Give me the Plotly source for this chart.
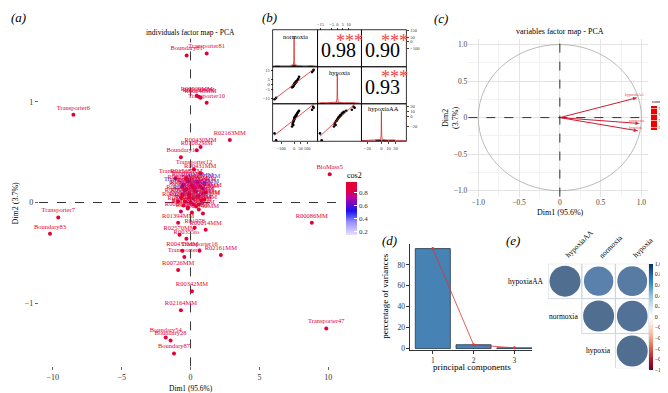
import numpy as np
import plotly.graph_objects as go
from plotly.colors import sample_colorscale

W, H = 668, 393
FONT = "Liberation Serif"


def fx(p):
    return p / W


def fy(p):
    return 1 - p / H


# ---------------- (a) individuals factor map ----------------
ind_names = [
    "Transporter81", "Boundary81", "R00529MM", "R00530MM", "R00248MM", "Transporter10",
    "Transporter6", "R02163MM", "R00430MM", "R01082MM", "Boundary1", "Transporter12", "R00431MM",
    "Transporter5", "R01518MM",
    "R00200MM", "R00209MM", "R01070MM", "Transporter22", "R00351MM", "R00658MM", "R00519MM", "R01899MM",
    "R00344MM", "R00479MM", "R00472MM", "R00706MM", "Transporter40", "R01186MM", "R00024MM", "R00762MM",
    "R01830", "R01324MM", "R00703MM", "R00214MM", "R01061MM", "R00867MM", "R00299MM", "R02740MM",
    "R00158MM", "R00161MM", "R01512MM", "R00710MM", "R00711MM", "R01015MM", "R01068MM", "R00756MM",
    "R00762AMM", "R01070BMM", "R02569MM", "R00200BMM", "R00703BMM", "R01786MM",
    "R01394MM", "R01978", "R00014MM", "R02570MM", "R00355to", "R00433MM", "Transporter16", "Transporter3",
    "R02161MM", "R00726MM", "R00342MM", "R02164MM", "Boundary54", "Boundary28", "Boundary87",
    "Transporter7", "Boundary83", "BioMass5", "R00086MM", "Transporter47",
]
ind_dim1 = [
    1.17, -0.28, 0.45, 0.6, 0.73, 1.17, -8.5, 2.85, 0.73, 0.45, -0.7, 0.25, 0.7, -1.1, -0.3,
    -0.2, 0.5, 1.0, -0.6, 0.2, 0.9, -0.4, 0.4, 1.1, -0.1, 0.6, -0.7, 0.2, 1.0, -0.9, 0.0,
    0.8, -0.5, 0.4, -0.2, 0.6, -0.7, 0.1, 0.9,
    -0.5, 0.1, 0.7, -0.3, 0.3, 0.9, -0.6, 0.5, -0.1, 0.8, -0.4, 0.2, 0.6, -0.2,
    -0.9, 0.3, 1.1, -0.8, -0.3, -0.6, 0.65, -0.45, 2.2, -0.9, 0.1, -0.7, -1.8, -1.45, -1.2,
    -9.6, -10.2, 10.1, 8.8, 9.85,
]
ind_dim2 = [
    1.48, 1.46, 1.06, 1.05, 1.04, 0.99, 0.87, 0.62, 0.55, 0.52, 0.45, 0.33, 0.29, 0.24, 0.24,
    0.21, 0.2, 0.19, 0.16, 0.15, 0.14, 0.12, 0.11, 0.1, 0.08, 0.07, 0.05, 0.04, 0.03, 0.01, 0.0,
    -0.01, -0.03, -0.04, -0.06, -0.07, -0.09, -0.1, -0.11,
    0.18, 0.17, 0.16, 0.13, 0.12, 0.09, 0.08, 0.06, 0.05, 0.02, 0.01, -0.02, -0.02, -0.05,
    -0.2, -0.25, -0.27, -0.32, -0.36, -0.48, -0.48, -0.54, -0.52, -0.67, -0.88, -1.07, -1.34, -1.37, -1.5,
    -0.15, -0.31, 0.28, -0.2, -1.25,
]
ind_cos2 = [
    0.85, 0.9, 0.9, 0.9, 0.9, 0.88, 0.9, 0.92, 0.9, 0.9, 0.9, 0.88, 0.9, 0.88, 0.9,
    0.9, 0.85, 0.45, 0.5, 0.9, 0.6, 0.9, 0.7, 0.9, 0.55, 0.9, 0.9, 0.45, 0.9, 0.9, 0.9,
    0.4, 0.9, 0.9, 0.9, 0.85, 0.8, 0.9, 0.9,
    0.9, 0.9, 0.88, 0.9, 0.75, 0.9, 0.9, 0.9, 0.9, 0.9, 0.9, 0.9, 0.9, 0.9,
    0.9, 0.85, 0.9, 0.9, 0.88, 0.9, 0.88, 0.9, 0.92, 0.9, 0.9, 0.9, 0.9, 0.9, 0.9,
    0.92, 0.92, 0.93, 0.92, 0.92,
]
a_xticks = [-10, -5, 0, 5, 10]
a_yticks = [-1, 0, 1]
cos2_ticks = [0.2, 0.4, 0.6, 0.8]

# ---------------- (b) correlation pairs ----------------
b_vars = ["normoxia", "hypoxia", "hypoxiaAA"]
b_normoxia = [-150, -138, 150, 146, 138, 38, 22, 14, 8, 4, 0, -4, -8, -12, -16, 18, 28, 2, -2, 10, 6, -6, 32]
b_hypoxia = [-15.5, -14, 15.5, 14.5, 13, 8, 4, 3, 1.5, 0.5, 0, -1, -2, -2.5, -3, 2.5, 5, 1, -0.5, 2, 1, -1.5, 6]
b_hypoxiaAA = [-34, -48, 18, 20, 14, 12, 6, 3, -1, -4, -6, -9, -12, -15, -20, 2, 8, -2, -8, 0, -3, -17, 10]
b_corr = [0.98, 0.90, 0.93]
b_stars = ["***", "***", "***"]
dens_normoxia_x = [-165, -140, -40, -6, -2, 0, 2, 6, 40, 140, 180]
dens_hypoxia_x = [-18, -14, -5, -0.8, -0.25, 0, 0.25, 0.8, 5, 14, 20]
dens_hypoxiaAA_x = [-28, -20, -8, -1.2, -0.4, 0, 0.4, 1.2, 8, 20, 35]
dens_y = [0.02, 0.03, 0.03, 0.05, 0.2, 0.92, 0.2, 0.05, 0.03, 0.03, 0.02]
b_ticks_normoxia = [-100, 0, 50, 100]
b_ticks_hypoxia_top = [-15, -5, 0, 5, 10]
b_ticks_hypoxia_left = [15, 5, 0, -5, -15]
b_ticks_hypoxiaAA = [20, 10, 0, -20]
b_ticks_row1 = [150, 50, 0, -100]

# ---------------- (c) variables factor map ----------------
var_names = ["hypoxiaAA", "normoxia", "hypoxia"]
var_dim1 = [0.94, 0.97, 0.95]
var_dim2 = [0.27, -0.08, -0.18]
var_contrib = [96.05, 96.4, 96.75]
contrib_ticks = [96.00, 96.25, 96.50, 96.75]

# ---------------- (d) scree plot ----------------
pc_labels = [1, 2, 3]
pc_variance = [95.6, 3.7, 0.7]

# ---------------- (e) correlogram ----------------
corr_labels = ["hypoxiaAA", "normoxia", "hypoxia"]
corr_matrix = [[1.0, 0.90, 0.93], [0.90, 1.0, 0.98], [0.93, 0.98, 1.0]]
corr_ticks = [1.0, 0.8, 0.6, 0.4, 0.2, 0, -0.2, -0.4, -0.6, -0.8, -1.0]

# ============================================================
RED = "rgb(210,25,50)"
cos2_scale = [
    [0.0, "rgb(232,226,255)"], [0.25, "rgb(150,140,250)"], [0.45, "rgb(20,20,240)"],
    [0.7, "rgb(185,0,160)"], [0.85, "rgb(228,0,60)"], [1.0, "rgb(225,0,50)"],
]
COS2_MIN, COS2_MAX = 0.15, 0.97
rdbu = [
    [0.0, "rgb(103,0,31)"], [0.1, "rgb(178,24,43)"], [0.2, "rgb(214,96,77)"], [0.3, "rgb(244,165,130)"],
    [0.4, "rgb(253,219,199)"], [0.5, "rgb(255,255,255)"], [0.6, "rgb(209,229,240)"],
    [0.7, "rgb(146,197,222)"], [0.8, "rgb(67,147,195)"], [0.9, "rgb(33,102,172)"], [1.0, "rgb(5,48,97)"],
]

fig = go.Figure()
shapes = []
annotations = []


def ann(text, x, y, size=8, color="black", **kw):
    d = dict(text=text, x=fx(x), y=fy(y), xref="paper", yref="paper", showarrow=False,
             xanchor="center", yanchor="middle",
             font=dict(family=FONT, size=size, color=color))
    d.update(kw)
    annotations.append(d)


# ---- (a)
label_colors = sample_colorscale(cos2_scale, [(c - COS2_MIN) / (COS2_MAX - COS2_MIN) for c in ind_cos2])
fig.add_trace(go.Scatter(
    x=ind_dim1, y=ind_dim2, mode="markers+text", text=ind_names, textposition="top center",
    textfont=dict(family=FONT, size=6.5, color=label_colors),
    marker=dict(size=4, color=ind_cos2, colorscale=cos2_scale, cmin=COS2_MIN, cmax=COS2_MAX,
                showscale=True,
                colorbar=dict(x=fx(338), xanchor="left", y=fy(175), yanchor="top", len=53, lenmode="pixels",
                              thickness=11, outlinewidth=0, xpad=0, ypad=0,
                              tickvals=cos2_ticks, ticks="inside", ticklen=3, tickcolor="white",
                              tickfont=dict(family=FONT, size=7, color="#333"))),
    xaxis="x", yaxis="y", cliponaxis=False, showlegend=False, hoverinfo="skip"))
ann("cos2", 346, 169, size=8)
shapes.append(dict(type="line", xref="x", yref="y domain", x0=0, x1=0, y0=0, y1=1,
                   line=dict(color="black", width=0.8, dash="dash"), layer="below"))
shapes.append(dict(type="line", xref="x domain", yref="y", x0=0, x1=1, y0=0, y1=0,
                   line=dict(color="black", width=0.8, dash="dash"), layer="below"))
ann("individuals factor map - PCA", 182, 24, size=7.5)
ann("Dim1 (95.6%)", 182, 384, size=7.5)
ann("Dim2 (3.7%)", 7, 196, size=8, textangle=-90)

# ---- (b)
dens_x = [dens_normoxia_x, dens_hypoxia_x, dens_hypoxiaAA_x]
vals = [b_normoxia, b_hypoxia, b_hypoxiaAA]
diag_axes = [("x5", "y5"), ("x6", "y6"), ("x7", "y7")]
for k in range(3):
    xa, ya = diag_axes[k]
    counts, edges = np.histogram(vals[k], bins=7)
    centers = (edges[:-1] + edges[1:]) / 2
    fig.add_trace(go.Bar(x=centers, y=counts / len(vals[k]) * 0.1, width=(edges[1] - edges[0]) * 0.9,
                         marker=dict(color="rgb(60,20,20)", line=dict(width=0)),
                         xaxis=xa, yaxis=ya, showlegend=False, hoverinfo="skip"))
    fig.add_trace(go.Scatter(x=dens_x[k], y=dens_y, mode="lines", line=dict(color="rgb(220,40,40)", width=0.8),
                             xaxis=xa, yaxis=ya, showlegend=False, hoverinfo="skip"))

lower = [(0, 1, "x5", "y8"), (0, 2, "x5", "y9"), (1, 2, "x6", "y9")]
for i, j, xa, ya in lower:
    xs = np.array(vals[i], dtype=float)
    ys = np.array(vals[j], dtype=float)
    fig.add_trace(go.Scatter(x=xs, y=ys, mode="markers", marker=dict(size=2.6, color="black"),
                             xaxis=xa, yaxis=ya, showlegend=False, hoverinfo="skip"))
    m, c = np.polyfit(xs, ys, 1)
    lx = np.array([xs.min(), xs.max()])
    fig.add_trace(go.Scatter(x=lx, y=m * lx + c, mode="lines", line=dict(color="rgb(220,40,40)", width=0.8),
                             xaxis=xa, yaxis=ya, showlegend=False, hoverinfo="skip"))
fig.add_trace(go.Scatter(x=[None], y=[None], xaxis="x7", yaxis="y10", showlegend=False, hoverinfo="skip"))

cols_px = [(264, 309), (309, 353), (353, 398)]
rows_px = [(21, 58.5), (58.5, 96), (96, 134)]
for (r0, r1) in rows_px:
    for (c0, c1) in cols_px:
        shapes.append(dict(type="rect", xref="paper", yref="paper", x0=fx(c0), x1=fx(c1), y0=fy(r1), y1=fy(r0),
                           line=dict(color="black", width=0.8)))
ann(b_vars[0], 286.5, 28, size=6.5)
ann(b_vars[1], 331, 64, size=6.5)
ann(b_vars[2], 375.5, 101, size=6.5)
upper_cells = [(330, 42, 341, 29), (374, 42, 386, 29), (374, 79, 386, 66)]
for k, (tx, ty, sx, sy) in enumerate(upper_cells):
    ann(f"{b_corr[k]:.2f}", tx, ty, size=20)
    ann(b_stars[k], sx, sy + 3, size=18, color="rgb(240,70,70)")

# ---- (c)
shapes.append(dict(type="circle", xref="x2", yref="y2", x0=-1, x1=1, y0=-1, y1=1,
                   line=dict(color="rgb(170,170,170)", width=0.8)))
shapes.append(dict(type="line", xref="x2", yref="y2 domain", x0=0, x1=0, y0=0, y1=1,
                   line=dict(color="black", width=0.8, dash="dash")))
shapes.append(dict(type="line", xref="x2 domain", yref="y2", x0=0, x1=1, y0=0, y1=0,
                   line=dict(color="black", width=0.8, dash="dash")))
for k in range(3):
    annotations.append(dict(x=var_dim1[k], y=var_dim2[k], ax=0, ay=0, xref="x2", yref="y2",
                            axref="x2", ayref="y2", showarrow=True, arrowhead=2, arrowsize=0.7,
                            arrowwidth=1, arrowcolor=RED, text=""))
    annotations.append(dict(x=var_dim1[k], y=var_dim2[k], xref="x2", yref="y2", showarrow=False,
                            text=var_names[k], yshift=3, xshift=-2, xanchor="center", yanchor="middle",
                            font=dict(family=FONT, size=4, color="rgb(235,60,60)")))
fig.add_trace(go.Scatter(
    x=var_dim1, y=var_dim2, mode="markers",
    marker=dict(size=1, color=var_contrib, colorscale=[[0, "rgb(240,0,0)"], [1, "rgb(240,0,0)"]],
                cmin=95.9, cmax=96.85, showscale=True,
                colorbar=dict(x=fx(643), xanchor="left", y=fy(98), yanchor="top", len=24, lenmode="pixels",
                              thickness=6, outlinewidth=0, xpad=0, ypad=0, tickvals=contrib_ticks,
                              ticktext=[f"{v:.2f}" for v in contrib_ticks], ticks="inside", ticklen=6,
                              tickcolor="rgba(255,200,200,0.8)", tickwidth=0.5,
                              tickfont=dict(family=FONT, size=4.5, color="#333"))),
    xaxis="x2", yaxis="y2", showlegend=False, hoverinfo="skip"))
ann("contrib", 650, 94, size=4.5)
ann("variables factor map - PCA", 552, 23, size=8)
ann("Dim1 (95.6%)", 552, 206, size=8)
ann("Dim2<br>(3.7%)", 442, 110, size=8, textangle=-90)

# ---- (d)
fig.add_trace(go.Bar(x=pc_labels, y=pc_variance, width=0.86,
                     marker=dict(color="rgb(70,130,180)", line=dict(color="rgb(35,55,80)", width=0.8)),
                     xaxis="x3", yaxis="y3", showlegend=False, hoverinfo="skip"))
fig.add_trace(go.Scatter(x=pc_labels, y=pc_variance, mode="lines+markers",
                         line=dict(color="rgb(225,50,50)", width=0.8), marker=dict(size=3, color="rgb(225,50,50)"),
                         xaxis="x3", yaxis="y3", showlegend=False, hoverinfo="skip", cliponaxis=False))
ann("principal components", 464, 363, size=9)
ann("percentage of variances", 377, 291, size=9, textangle=-90)

# ---- (e)
ex, ey, er = [], [], []
for i in range(3):
    for j in range(i, 3):
        ex.append(j)
        ey.append(i)
        er.append(corr_matrix[i][j])
        shapes.append(dict(type="rect", xref="x4", yref="y4", x0=j - 0.5, x1=j + 0.5, y0=i - 0.5, y1=i + 0.5,
                           line=dict(color="rgb(200,210,220)", width=0.8), layer="below"))
fig.add_trace(go.Scatter(
    x=ex, y=ey, mode="markers",
    marker=dict(size=np.sqrt(np.abs(er)), sizemode="diameter", sizeref=1 / 31, color=er, colorscale=rdbu,
                cmin=-1, cmax=1, line=dict(width=0), showscale=True,
                colorbar=dict(x=fx(641), xanchor="left", y=fy(258), yanchor="top", len=106, lenmode="pixels",
                              thickness=4, outlinewidth=0, xpad=0, ypad=0, tickvals=corr_ticks,
                              ticktext=["1.0", "0.8", "0.6", "0.4", "0.2", "0", "−0.2", "−0.4", "−0.6", "−0.8", "−1.0"],
                              ticks="", tickfont=dict(family=FONT, size=6, color="#222"))),
    xaxis="x4", yaxis="y4", showlegend=False, hoverinfo="skip"))
for k, name in enumerate(corr_labels):
    annotations.append(dict(x=k - 0.5, y=k, xref="x4", yref="y4", text=name, showarrow=False,
                            xanchor="right", yanchor="middle", xshift=-2,
                            font=dict(family=FONT, size=7.5, color="black")))
    annotations.append(dict(x=k, y=-0.5, xref="x4", yref="y4", text=name, showarrow=False,
                            xanchor="left", yanchor="bottom", textangle=-45, xshift=-4, yshift=1,
                            font=dict(family=FONT, size=7.5, color="black")))

# ---- panel letters
for letter, x, y in [("a", 10, 9), ("b", 261, 9), ("c", 433, 10), ("d", 381, 234), ("e", 505, 234)]:
    ann(f"<i>({letter})</i>", x, y, size=13)

tickfont = dict(family=FONT, size=8, color="#333")
small = dict(family=FONT, size=4.5, color="#333")
base_ax = dict(showgrid=False, zeroline=False, showline=False)
bax = dict(ticks="outside", ticklen=2, tickfont=small, tickangle=0, **base_ax)

layout = dict(
    width=W, height=H, margin=dict(l=0, r=0, t=0, b=0), paper_bgcolor="white", plot_bgcolor="rgba(0,0,0,0)",
    font=dict(family=FONT), showlegend=False, barmode="overlay",
    # (a)
    xaxis=dict(domain=[fx(30), fx(335)], range=[-11.0, 11.1], tickvals=a_xticks, ticks="outside", ticklen=3,
               tickcolor="#666", tickfont=tickfont, anchor="y", **base_ax),
    yaxis=dict(domain=[fy(362), fy(30)], range=[-1.627, 1.627], tickvals=a_yticks, ticks="outside", ticklen=3,
               tickcolor="#666", tickfont=tickfont, anchor="x", **base_ax),
    # (c)
    xaxis2=dict(domain=[fx(460), fx(640)], range=[-1.122, 1.081], tickvals=[-1, -0.5, 0, 0.5, 1],
                ticktext=["−1.0", "−0.5", "0", "0.5", "1.0"], showgrid=True, gridcolor="rgb(228,228,228)",
                gridwidth=0.6, minor=dict(tickvals=[-0.75, -0.25, 0.25, 0.75], showgrid=True,
                                          gridcolor="rgb(242,242,242)", gridwidth=0.5),
                zeroline=False, showline=False, ticks="", tickfont=dict(family=FONT, size=7.5, color="#444"),
                anchor="y2"),
    yaxis2=dict(domain=[fy(190), fy(30)], range=[-1.081, 1.081], tickvals=[-1, -0.5, 0, 0.5, 1],
                ticktext=["−1.0", "−0.5", "0", "0.5", "1.0"], showgrid=True, gridcolor="rgb(228,228,228)",
                gridwidth=0.6, minor=dict(tickvals=[-0.75, -0.25, 0.25, 0.75], showgrid=True,
                                          gridcolor="rgb(242,242,242)", gridwidth=0.5),
                zeroline=False, showline=False, ticks="", tickfont=dict(family=FONT, size=7.5, color="#444"),
                anchor="x2"),
    # (d)
    xaxis3=dict(domain=[fx(402), fx(524)], range=[0.45, 3.44], tickvals=pc_labels, showline=True,
                linecolor="#333", linewidth=0.8, ticks="outside", ticklen=3, tickcolor="#333",
                showgrid=False, zeroline=False, tickfont=dict(family=FONT, size=7.5, color="#333"), anchor="y3"),
    yaxis3=dict(domain=[fy(345), fy(238)], range=[-1, 100], tickvals=[0, 20, 40, 60, 80], showline=True,
                linecolor="#333", linewidth=0.8, ticks="outside", ticklen=3, tickcolor="#333",
                showgrid=False, zeroline=False, tickfont=dict(family=FONT, size=7.5, color="#333"), anchor="x3"),
    # (e)
    xaxis4=dict(domain=[fx(540), fx(641)], range=[-0.5, 2.5], visible=False, anchor="y4"),
    yaxis4=dict(domain=[fy(364), fy(258)], range=[2.5, -0.5], visible=False, anchor="x4"),
    # (b) columns
    xaxis5=dict(domain=[fx(264), fx(309)], range=[-165, 180], anchor="free", position=fy(134), side="bottom",
                tickvals=b_ticks_normoxia, **bax),
    xaxis6=dict(domain=[fx(309), fx(353)], range=[-17.7, 21.6], anchor="free", position=fy(21), side="top",
                tickvals=b_ticks_hypoxia_top, **bax),
    xaxis7=dict(domain=[fx(353), fx(398)], range=[-28.5, 35.7], anchor="free", position=fy(134), side="bottom",
                tickvals=b_ticks_hypoxiaAA, **bax),
    yaxis5=dict(domain=[fy(58.5), fy(21)], range=[0, 1.15], visible=False, anchor="x5"),
    yaxis6=dict(domain=[fy(96), fy(58.5)], range=[0, 1.15], visible=False, anchor="x6"),
    yaxis7=dict(domain=[fy(134), fy(96)], range=[0, 1.15], visible=False, anchor="x7"),
    yaxis8=dict(domain=[fy(96), fy(58.5)], range=[-20.2, 18.6], anchor="free", position=fx(264), side="left",
                tickvals=b_ticks_hypoxia_left, **bax),
    yaxis9=dict(domain=[fy(134), fy(96)], range=[-50, 26], anchor="free", position=fx(398), side="right",
                tickvals=b_ticks_hypoxiaAA, **bax),
    yaxis10=dict(domain=[fy(58.5), fy(21)], range=[-371, 164], anchor="free", position=fx(398), side="right",
                 tickvals=b_ticks_row1, **bax),
    shapes=shapes, annotations=annotations,
)
fig.update_layout(**layout)
fig.write_html("out.html", config={"displayModeBar": False})
